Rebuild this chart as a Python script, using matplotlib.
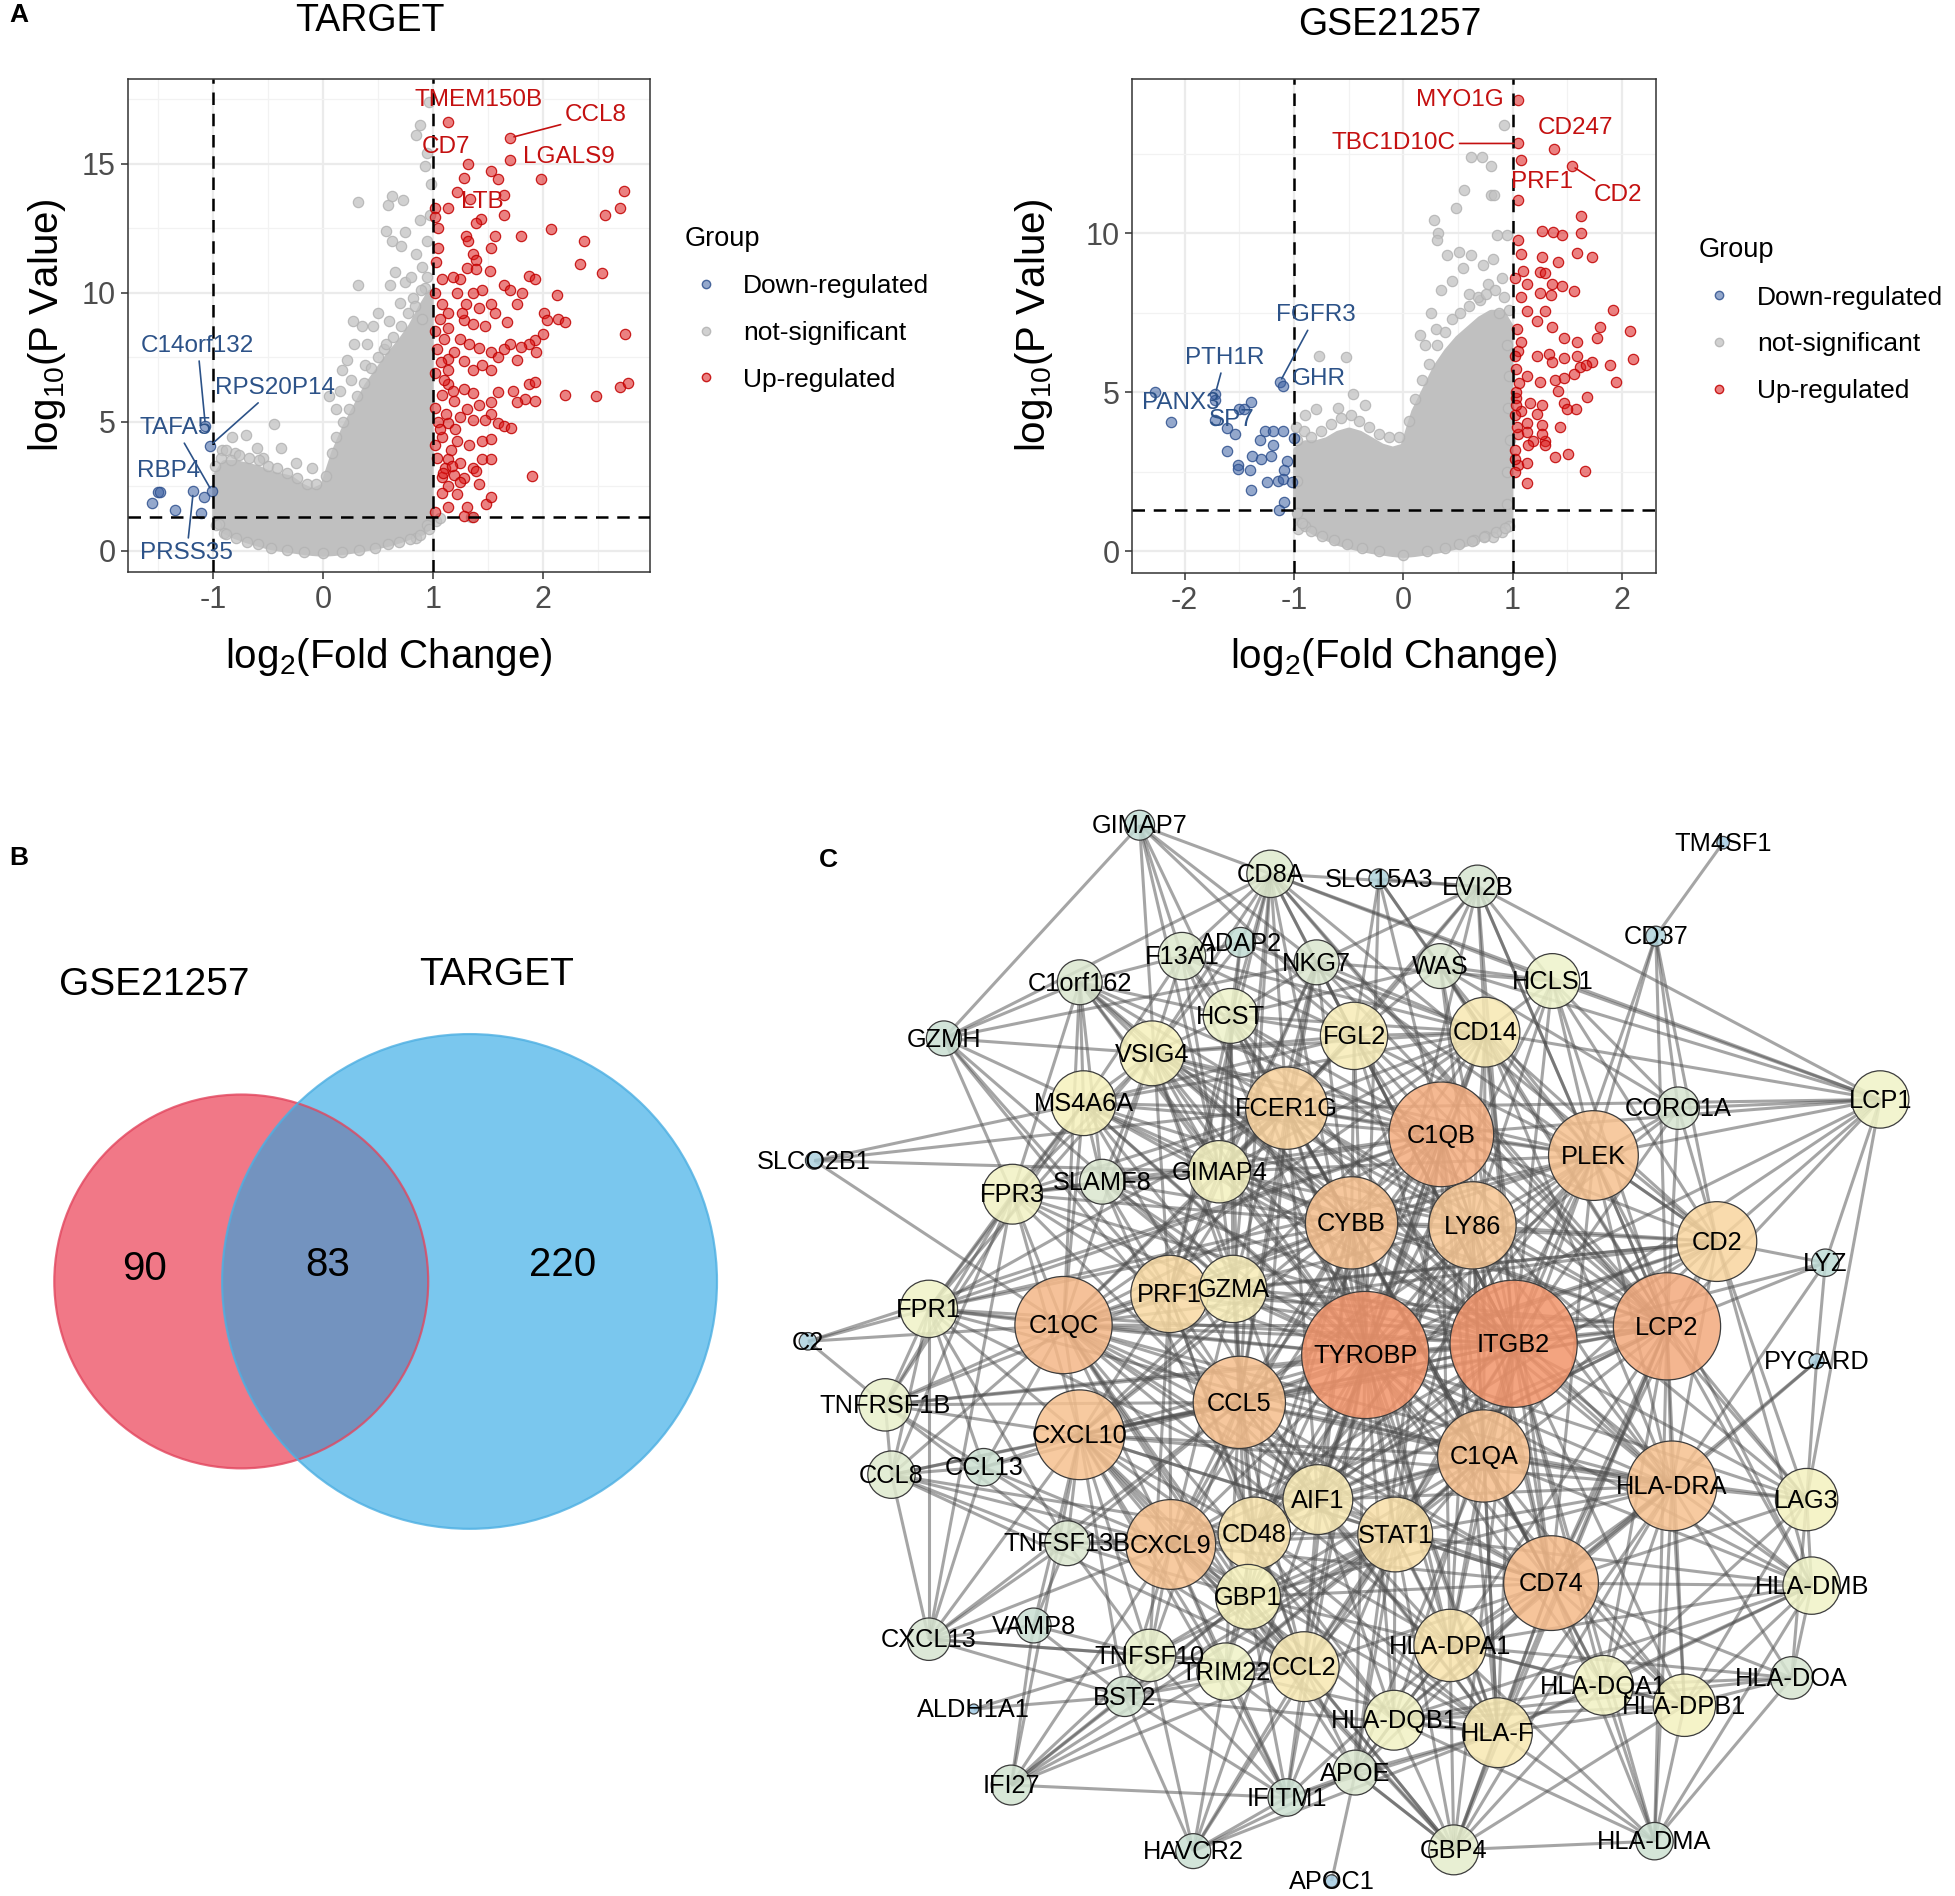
import matplotlib
matplotlib.use("Agg")
import matplotlib.pyplot as plt
import numpy as np
from matplotlib.patches import Circle
from matplotlib.collections import LineCollection
from matplotlib.colors import LinearSegmentedColormap, Normalize
from matplotlib.lines import Line2D
from matplotlib.ticker import MultipleLocator

plt.rcParams['font.family'] = ['Liberation Sans', 'DejaVu Sans']
plt.rcParams['mathtext.fontset'] = 'custom'
plt.rcParams['mathtext.rm'] = 'Liberation Sans'
plt.rcParams['axes.unicode_minus'] = False

# ---------------- panel A data: (log2FC, -log10 P) ----------------
target_up = [
    (1.59, 14.4), (1.53, 14.7), (1.28, 14.45), (1.98, 14.4), (1.22, 13.9), (1.65, 13.8),
    (1.02, 13.3), (1.14, 13.3), (2.74, 13.95), (2.70, 13.3), (2.56, 13.0), (1.65, 13.0),
    (1.44, 12.85), (1.39, 12.7), (1.02, 12.95), (1.05, 12.5), (1.30, 12.2), (1.32, 12.0),
    (1.56, 12.2), (1.80, 12.2), (2.07, 12.45), (2.37, 12.0), (1.05, 11.75), (1.53, 11.75),
    (1.36, 11.5), (1.39, 11.25), (1.31, 10.95), (1.39, 10.9), (1.52, 10.85), (2.34, 11.1),
    (2.54, 10.75), (1.87, 10.65), (1.08, 10.55), (1.25, 10.55), (1.93, 10.55), (1.65, 10.3),
    (1.45, 10.1), (1.36, 10.0), (1.02, 10.0), (1.22, 10.0), (1.81, 10.0), (1.70, 10.1),
    (2.13, 9.9), (1.08, 9.55), (1.30, 9.55), (1.53, 9.55), (1.76, 9.55), (1.42, 9.4),
    (1.56, 9.2), (1.14, 9.2), (1.28, 8.95), (1.67, 8.85), (1.36, 8.8), (1.47, 8.7),
    (1.14, 8.65), (1.02, 8.5), (2.01, 9.2), (2.04, 8.95), (2.14, 9.0), (2.20, 8.85),
    (2.00, 8.4), (1.93, 8.15), (1.87, 8.0), (1.80, 7.9), (1.70, 8.0), (2.75, 8.4),
    (1.25, 8.2), (1.33, 8.0), (1.42, 7.85), (1.53, 7.7), (1.59, 7.5), (1.65, 7.8),
    (1.19, 7.7), (1.14, 7.45), (1.28, 7.35), (1.45, 7.2), (1.36, 7.0), (1.53, 7.0),
    (1.14, 7.0), (1.02, 6.9), (1.76, 7.4), (1.94, 7.7), (1.87, 6.45), (1.93, 6.55),
    (1.73, 6.2), (1.84, 5.9), (1.93, 5.8), (1.76, 5.75), (1.59, 6.15), (1.53, 5.75),
    (2.70, 6.35), (2.77, 6.5), (2.48, 6.0), (2.20, 6.05), (1.14, 6.45), (1.28, 6.25),
    (1.36, 6.1), (1.08, 6.05), (1.19, 5.8), (1.42, 5.65), (1.31, 5.5), (1.02, 5.55),
    (1.25, 5.2), (1.14, 4.95), (1.36, 5.05), (1.53, 5.3), (1.47, 5.05), (1.59, 4.95),
    (1.65, 4.85), (1.71, 4.75), (1.08, 4.4), (1.22, 4.25), (1.33, 4.1), (1.16, 3.9),
    (1.02, 4.1), (1.45, 4.25), (1.53, 4.35), (1.14, 3.55), (1.25, 3.4), (1.36, 3.2),
    (1.19, 2.95), (1.08, 2.85), (1.28, 2.8), (1.45, 3.55), (1.53, 3.55), (1.39, 3.1),
    (1.90, 2.9), (1.14, 2.5), (1.25, 2.65), (1.42, 2.6), (1.08, 2.25), (1.14, 1.7),
    (1.31, 1.7), (1.48, 1.8), (1.53, 2.1), (1.28, 1.35), (1.02, 1.5), (1.36, 1.3),
    (1.03, 11.2), (1.06, 9.0), (1.04, 7.8), (1.10, 6.6), (1.05, 5.0), (1.20, 4.7),
    (1.11, 3.2), (1.22, 2.2), (1.04, 3.6), (1.18, 10.6), (1.26, 9.2), (1.10, 8.2),
    (1.09, 3.0), (1.17, 3.3), (1.06, 4.7), (1.12, 5.3), (1.18, 6.2), (1.07, 7.3),
]
target_down = [(-1.50, 2.28), (-1.48, 2.28), (-1.56, 1.85), (-1.35, 1.59), (-1.11, 1.47)]
target_ns = [
    (0.32, 13.5), (0.59, 13.4), (0.63, 13.75), (0.73, 13.6), (0.57, 12.4), (0.63, 12.0),
    (0.75, 12.35), (0.71, 11.8), (0.88, 16.5), (0.85, 16.1), (0.96, 17.4), (0.93, 14.9),
    (0.95, 15.4), (0.90, 11.0), (0.85, 11.5), (0.88, 12.8), (0.32, 10.3), (0.61, 10.3),
    (0.65, 10.8), (0.75, 10.4), (0.80, 10.6), (0.27, 8.9), (0.35, 8.7), (0.28, 8.0),
    (0.45, 8.7), (0.50, 9.2), (0.17, 7.0), (0.22, 7.4), (0.05, 6.0), (0.12, 5.5),
    (-0.45, 4.9), (-0.70, 4.5), (-0.83, 4.4), (-0.92, 3.9), (-0.80, 3.8), (-0.60, 4.0),
    (-0.38, 4.0), (-0.55, 3.6), (-0.25, 3.4), (-0.10, 3.2), (1.03, 1.15), (1.35, 1.3),
    (1.06, 1.25), (0.95, 1.0), (-0.97, 1.0), (-0.90, 0.7), (0.40, 8.0), (0.55, 7.8),
    (0.70, 9.6), (0.82, 9.8), (0.93, 10.2), (0.90, 9.0), (0.95, 12.0), (0.97, 13.0),
    (0.98, 14.2), (0.15, 6.2), (0.25, 6.6), (0.38, 7.2), (0.60, 8.9), (0.85, 0.5),
    # points along the edge of the dense cloud
    (-0.98, 3.3), (-0.93, 3.6), (-0.88, 3.9), (-0.84, 3.5), (-0.76, 3.7), (-0.67, 3.6),
    (-0.58, 3.5), (-0.50, 3.3), (-0.42, 3.2), (-0.33, 3.0), (-0.24, 2.8), (-0.15, 2.6),
    (-0.06, 2.6), (0.03, 2.9), (0.08, 3.8), (0.12, 4.4), (0.18, 5.0), (0.24, 5.5),
    (0.31, 6.0), (0.37, 6.5), (0.44, 7.1), (0.50, 7.5), (0.57, 8.0), (0.64, 8.3),
    (0.71, 8.7), (0.77, 9.2), (0.84, 9.5), (0.89, 10.1), (0.95, 10.6),
    (-0.95, 1.05), (-0.88, 0.65), (-0.79, 0.5), (-0.69, 0.35), (-0.59, 0.25), (-0.47, 0.12),
    (-0.33, 0.04), (-0.17, -0.05), (0.0, -0.1), (0.17, -0.05), (0.33, 0.04), (0.47, 0.12),
    (0.59, 0.25), (0.69, 0.35), (0.79, 0.45), (0.88, 0.6), (0.96, 0.85),
]
# envelope of the dense non-significant cloud: log2FC, lower and upper -log10 P
target_env_x = [-0.98, -0.9, -0.8, -0.7, -0.6, -0.5, -0.4, -0.3, -0.2, -0.1, 0.0,
                0.1, 0.2, 0.3, 0.4, 0.5, 0.6, 0.7, 0.8, 0.9, 0.97]
target_env_hi = [2.9, 3.4, 3.4, 3.3, 3.2, 3.0, 2.9, 2.8, 2.5, 2.3, 2.5,
                 3.8, 4.8, 5.6, 6.4, 7.0, 7.6, 8.1, 8.7, 9.5, 10.0]
target_env_lo = [1.2, 0.8, 0.6, 0.45, 0.32, 0.2, 0.12, 0.06, 0.0, -0.05, -0.08,
                 -0.05, 0.0, 0.06, 0.14, 0.22, 0.32, 0.45, 0.6, 0.75, 1.0]
# labelled genes: name, log2FC, -log10P, label x, label y, leader line, group
target_labels = [
    ("TMEM150B", 1.14, 16.6, 1.41, 17.45, False, "up"),
    ("CCL8", 1.70, 16.0, 2.48, 16.87, True, "up"),
    ("CD7", 1.32, 15.0, 1.12, 15.63, False, "up"),
    ("LGALS9", 1.70, 15.15, 2.24, 15.25, False, "up"),
    ("LTB", 1.34, 13.65, 1.45, 13.52, False, "up"),
    ("C14orf132", -1.07, 4.84, -1.14, 7.94, True, "down"),
    ("RPS20P14", -1.03, 4.06, -0.44, 6.30, True, "down"),
    ("TAFA5", -1.01, 2.30, -1.34, 4.75, True, "down"),
    ("RBP4", -1.08, 2.08, -1.40, 3.10, False, "down"),
    ("PRSS35", -1.18, 2.30, -1.24, -0.09, True, "down"),
]

gse_up = [
    (1.05, 11.04), (1.63, 10.55), (1.27, 10.08), (1.37, 10.04), (1.45, 9.94), (1.63, 10.01),
    (1.08, 9.35), (1.59, 9.38), (1.27, 9.24), (1.73, 9.24), (1.42, 9.10), (1.10, 8.82),
    (1.25, 8.79), (1.30, 8.75), (1.13, 8.40), (1.36, 8.40), (1.45, 8.33), (1.56, 8.19),
    (1.25, 8.12), (1.35, 8.05), (1.08, 7.98), (1.92, 7.58), (1.80, 7.04), (2.07, 6.92),
    (1.77, 6.71), (1.47, 6.71), (1.36, 7.06), (1.22, 7.25), (1.30, 7.56), (1.13, 7.56),
    (1.59, 6.57), (1.08, 6.57), (1.05, 6.29), (1.22, 6.15), (1.33, 6.22), (1.36, 5.94),
    (1.47, 6.08), (1.59, 6.15), (1.62, 5.80), (1.73, 5.94), (1.67, 5.87), (1.89, 5.87),
    (2.10, 6.04), (1.95, 5.34), (1.02, 6.15), (1.03, 5.73), (1.13, 5.52), (1.25, 5.31),
    (1.39, 5.38), (1.47, 5.45), (1.56, 5.59), (1.68, 4.85), (1.58, 4.49), (1.42, 5.03),
    (1.47, 4.68), (1.50, 4.47), (1.27, 4.61), (1.16, 4.68), (1.22, 4.33), (1.08, 4.40),
    (1.03, 4.82), (1.03, 4.61), (1.13, 4.04), (1.27, 3.97), (1.43, 3.90), (1.05, 3.69),
    (1.13, 3.76), (1.19, 3.48), (1.30, 3.48), (1.30, 3.34), (1.14, 3.34), (1.27, 3.69),
    (1.39, 2.96), (1.51, 3.06), (1.02, 3.20), (1.05, 2.71), (1.13, 2.78), (1.02, 2.50),
    (1.66, 2.53), (1.13, 2.15), (1.02, 4.30), (1.03, 5.00), (1.04, 7.00), (1.02, 8.60),
    (1.05, 9.80), (1.04, 3.90), (1.02, 2.90), (1.06, 5.30),
]
gse_down = [
    (-2.27, 5.00), (-2.12, 4.07), (-1.50, 4.49), (-1.46, 4.47), (-1.39, 4.70), (-1.61, 3.88),
    (-1.54, 3.69), (-1.26, 3.79), (-1.19, 3.79), (-1.10, 3.79), (-1.00, 3.55), (-1.31, 3.51),
    (-1.19, 3.34), (-1.61, 3.17), (-1.38, 2.99), (-1.30, 2.92), (-1.21, 2.99), (-1.06, 2.85),
    (-1.51, 2.71), (-1.51, 2.60), (-1.40, 2.57), (-1.09, 2.57), (-1.25, 2.18), (-1.15, 2.22),
    (-1.10, 2.29), (-1.39, 1.94), (-1.02, 2.19), (-1.09, 1.54), (-1.14, 1.31),
]
gse_ns = [
    (0.92, 13.4), (0.62, 12.4), (0.72, 12.4), (0.80, 12.1), (0.56, 11.35), (0.80, 11.2),
    (0.83, 11.2), (0.48, 10.8), (0.28, 10.4), (0.32, 10.0), (0.31, 9.8), (0.86, 9.95),
    (0.95, 9.95), (0.51, 9.4), (0.62, 9.3), (0.73, 9.0), (0.82, 9.2), (0.40, 9.3),
    (0.55, 8.9), (0.45, 8.5), (0.25, 7.5), (0.20, 6.5), (0.15, 6.8), (-0.77, 6.15),
    (-0.52, 6.10), (-0.46, 4.96), (-0.80, 4.47), (-0.90, 4.30), (-0.60, 4.50), (-0.35, 4.60),
    (0.90, 8.6), (0.88, 7.5), (0.95, 6.5), (0.97, 5.5), (0.96, 4.5), (0.98, 3.5),
    (0.95, 2.5), (0.95, 1.5), (0.97, 0.8), (0.90, 0.6), (-0.97, 1.2), (-0.96, 0.7),
    (-0.90, 0.8), (0.75, 0.5), (0.82, 0.45), (0.65, 0.35), (0.35, 8.2), (0.60, 8.1),
    (0.70, 7.9), (0.30, 7.0), (0.78, 8.4), (-0.98, 3.9), (-0.97, 2.2),
    # points along the edge of the dense cloud
    (-0.97, 3.5), (-0.91, 3.8), (-0.84, 3.6), (-0.75, 3.8), (-0.66, 4.0), (-0.57, 4.2),
    (-0.48, 4.3), (-0.40, 4.1), (-0.31, 3.9), (-0.22, 3.7), (-0.13, 3.6), (-0.04, 3.6),
    (0.05, 4.1), (0.11, 4.8), (0.17, 5.4), (0.24, 5.9), (0.31, 6.5), (0.38, 6.9),
    (0.45, 7.3), (0.52, 7.5), (0.60, 7.7), (0.68, 8.0), (0.76, 8.1), (0.84, 8.2),
    (0.92, 8.0), (0.97, 7.6),
    (-0.93, 0.9), (-0.84, 0.65), (-0.74, 0.5), (-0.63, 0.35), (-0.51, 0.22), (-0.38, 0.1),
    (-0.22, 0.0), (0.0, -0.1), (0.22, 0.0), (0.38, 0.1), (0.51, 0.22), (0.63, 0.33),
    (0.74, 0.45), (0.85, 0.6), (0.93, 0.75),
]
gse_env_x = [-0.98, -0.9, -0.8, -0.7, -0.6, -0.5, -0.4, -0.3, -0.2, -0.1, 0.0,
             0.1, 0.2, 0.3, 0.4, 0.5, 0.6, 0.7, 0.8, 0.9, 0.97]
gse_env_hi = [3.2, 3.4, 3.4, 3.5, 3.7, 3.8, 3.7, 3.5, 3.3, 3.2, 3.3,
              4.4, 5.1, 5.8, 6.3, 6.7, 7.0, 7.3, 7.5, 7.5, 7.1]
gse_env_lo = [1.0, 0.8, 0.6, 0.45, 0.3, 0.2, 0.12, 0.05, 0.0, -0.05, -0.08,
              -0.05, 0.0, 0.05, 0.12, 0.2, 0.3, 0.45, 0.6, 0.8, 1.0]
gse_labels = [
    ("MYO1G", 1.05, 14.19, 0.52, 14.19, False, "up"),
    ("TBC1D10C", 1.05, 12.82, -0.09, 12.82, True, "up"),
    ("CD247", 1.38, 12.64, 1.58, 13.29, False, "up"),
    ("PRF1", 1.08, 12.30, 1.27, 11.60, False, "up"),
    ("CD2", 1.54, 12.12, 1.96, 11.20, True, "up"),
    ("FGFR3", -1.13, 5.31, -0.80, 7.42, True, "down"),
    ("GHR", -1.10, 5.20, -0.77, 5.42, False, "down"),
    ("PTH1R", -1.72, 4.94, -1.63, 6.08, True, "down"),
    ("PANX3", -1.72, 4.75, -2.03, 4.68, False, "down"),
    ("SP7", -1.72, 4.12, -1.57, 4.14, False, "down"),
]
groups = ["Down-regulated", "not-significant", "Up-regulated"]

# ---------------- panel B data ----------------
venn_sets = ["GSE21257", "TARGET"]
venn_only_gse, venn_both, venn_only_target = 90, 83, 220

# ---------------- panel C data ----------------
nodes = [  # name, layout x, layout y, degree
    ("GIMAP7", 914, 662, 9), ("TM4SF1", 1382, 676, 2), ("CD8A", 1019, 701, 16),
    ("SLC15A3", 1106, 705, 5), ("EVI2B", 1185, 711, 14), ("CD37", 1328, 751, 5),
    ("ADAP2", 995, 756, 9), ("F13A1", 948, 767, 16), ("NKG7", 1056, 772, 15),
    ("WAS", 1155, 775, 15), ("HCLS1", 1245, 787, 19), ("C1orf162", 866, 788, 15),
    ("HCST", 987, 815, 19), ("FGL2", 1086, 831, 24), ("CD14", 1191, 828, 25),
    ("GZMH", 757, 833, 11), ("VSIG4", 924, 845, 23), ("MS4A6A", 869, 885, 23),
    ("FCER1G", 1032, 889, 30), ("CORO1A", 1346, 889, 14), ("LCP1", 1508, 882, 20),
    ("C1QB", 1156, 910, 39), ("PLEK", 1278, 927, 33), ("SLCO2B1", 653, 931, 4),
    ("GIMAP4", 978, 940, 22), ("SLAMF8", 884, 948, 15), ("FPR3", 812, 958, 21),
    ("CYBB", 1084, 981, 34), ("LY86", 1181, 983, 32), ("CD2", 1377, 996, 29),
    ("LYZ", 1464, 1013, 8), ("PRF1", 938, 1038, 28), ("GZMA", 989, 1034, 24),
    ("FPR1", 745, 1050, 20), ("C1QC", 853, 1063, 36), ("LCP2", 1337, 1064, 40),
    ("C2", 648, 1076, 4), ("ITGB2", 1214, 1078, 48), ("TYROBP", 1095, 1087, 48),
    ("PYCARD", 1457, 1092, 3), ("CCL5", 994, 1125, 34), ("TNFRSF1B", 710, 1127, 18),
    ("CXCL10", 866, 1151, 33), ("C1QA", 1190, 1168, 34), ("CCL13", 789, 1177, 12),
    ("CCL8", 715, 1183, 16), ("HLA-DRA", 1341, 1192, 33), ("AIF1", 1057, 1203, 25),
    ("LAG3", 1449, 1203, 22), ("CD48", 1006, 1230, 26), ("STAT1", 1119, 1231, 27),
    ("TNFSF13B", 856, 1238, 15), ("CXCL9", 939, 1239, 33), ("CD74", 1244, 1270, 35),
    ("HLA-DMB", 1453, 1272, 20), ("GBP1", 1001, 1281, 23), ("VAMP8", 829, 1304, 11),
    ("CXCL13", 745, 1315, 14), ("HLA-DPA1", 1163, 1320, 26), ("TNFSF10", 922, 1328, 18),
    ("CCL2", 1046, 1337, 25), ("TRIM22", 983, 1341, 20), ("HLA-DOA", 1437, 1346, 14),
    ("HLA-DQA1", 1286, 1352, 21), ("BST2", 902, 1361, 13), ("HLA-DPB1", 1351, 1368, 22),
    ("ALDH1A1", 781, 1371, 1), ("HLA-DQB1", 1118, 1380, 21), ("HLA-F", 1201, 1390, 25),
    ("APOE", 1087, 1422, 15), ("IFI27", 811, 1432, 13), ("IFITM1", 1032, 1442, 12),
    ("HLA-DMA", 1327, 1477, 12), ("GBP4", 1166, 1484, 17), ("HAVCR2", 957, 1485, 11),
    ("APOC1", 1068, 1509, 2),
]
links = {
    "TYROBP": "ITGB2 LCP2 C1QB C1QC C1QA CYBB FCER1G PLEK LY86 CD74 HLA-DRA CCL5 CXCL10 CXCL9 CD2 STAT1 FGL2 CD14 PRF1 GZMA CD48 AIF1 GIMAP4 MS4A6A VSIG4 FPR3 FPR1 HCST LAG3 HLA-DPA1 HLA-F CCL2 GBP1 LCP1 HCLS1 CD8A F13A1 NKG7 C1orf162 CORO1A SLAMF8 EVI2B TNFRSF1B HLA-DMB HLA-DQA1 HLA-DPB1 HLA-DQB1 APOE HAVCR2 IFITM1 SLC15A3",
    "ITGB2": "LCP2 C1QB C1QC C1QA CYBB FCER1G PLEK LY86 CD74 HLA-DRA CCL5 CXCL10 CXCL9 CD2 STAT1 FGL2 CD14 PRF1 GZMA CD48 AIF1 GIMAP4 MS4A6A VSIG4 FPR3 FPR1 HCST LAG3 HLA-DPA1 HLA-F CCL2 LCP1 HCLS1 CD8A NKG7 C1orf162 CORO1A SLAMF8 EVI2B WAS TNFRSF1B HLA-DMB HLA-DQA1 HLA-DPB1 HLA-DQB1 HLA-DMA GBP4 CD37 LYZ",
    "LCP2": "C1QB CYBB FCER1G PLEK LY86 CD74 HLA-DRA CCL5 CXCL10 CD2 STAT1 CD14 PRF1 GZMA CD48 AIF1 GIMAP4 HCST LAG3 HLA-DPA1 HLA-F LCP1 HCLS1 CD8A NKG7 CORO1A EVI2B WAS GIMAP7 CD37 LYZ HLA-DMB HLA-DPB1 HLA-DQA1 HLA-DMA GBP4 C1QC CXCL9",
    "C1QB": "C1QC C1QA CYBB FCER1G PLEK LY86 CD74 HLA-DRA CCL5 CXCL10 CXCL9 CD14 FGL2 VSIG4 MS4A6A FPR3 FPR1 AIF1 HCST C1orf162 SLC15A3 APOE C2 CD2 STAT1 HLA-F HLA-DPA1 LCP1 GIMAP4 CD48",
    "C1QC": "C1QA CYBB FCER1G PLEK LY86 CD74 HLA-DRA CCL5 CXCL10 CXCL9 CD14 FGL2 VSIG4 MS4A6A FPR3 FPR1 AIF1 C1orf162 TNFRSF1B CCL8 CCL13 SLCO2B1 C2 APOE GBP1 CCL2 STAT1 HLA-DPA1 HLA-DQB1 CD2",
    "C1QA": "CYBB FCER1G PLEK LY86 CD74 HLA-DRA CCL5 CXCL10 CXCL9 CD14 VSIG4 MS4A6A FPR1 AIF1 STAT1 HLA-F HLA-DPA1 HLA-DQA1 HLA-DPB1 APOE GBP1 CCL2 LAG3 HLA-DMB TRIM22 FGL2 CD48",
    "CYBB": "FCER1G PLEK LY86 CD74 HLA-DRA CCL5 CXCL10 CD14 FGL2 MS4A6A FPR3 FPR1 AIF1 GIMAP4 HCST VSIG4 SLAMF8 C1orf162 CD48 STAT1 CCL2 GBP1 TNFRSF1B HLA-DPA1 CD2 CXCL9",
    "FCER1G": "PLEK LY86 CD74 HLA-DRA CCL5 CD14 FGL2 MS4A6A FPR3 FPR1 AIF1 GIMAP4 HCST VSIG4 SLAMF8 C1orf162 CD48 NKG7 F13A1 CD8A SLCO2B1 LCP1 EVI2B CXCL10 HLA-F",
    "PLEK": "LY86 CD74 HLA-DRA CD14 FGL2 CD2 CORO1A LCP1 HCLS1 WAS EVI2B CD37 FPR1 AIF1 GIMAP4 CD48 STAT1 HLA-DMB CCL5 VSIG4",
    "LY86": "CD74 HLA-DRA CD14 FGL2 CD2 HCLS1 WAS CD48 AIF1 GIMAP4 MS4A6A VSIG4 STAT1 HLA-DPA1 HLA-F CCL5 LAG3",
    "CD74": "HLA-DRA HLA-DPA1 HLA-DQA1 HLA-DPB1 HLA-DQB1 HLA-F HLA-DMB HLA-DMA HLA-DOA LAG3 STAT1 CCL2 CXCL10 CXCL9 CCL5 GBP1 GBP4 APOE PYCARD CD2 CD14 AIF1",
    "HLA-DRA": "HLA-DPA1 HLA-DQA1 HLA-DPB1 HLA-DQB1 HLA-F HLA-DMB HLA-DMA HLA-DOA LAG3 STAT1 CD2 CXCL10 CCL5 GBP1 GBP4 PYCARD LYZ AIF1 CD14",
    "CCL5": "CXCL10 CXCL9 CCL2 CCL8 CCL13 STAT1 PRF1 GZMA CD48 CD2 GBP1 TNFSF10 TRIM22 CXCL13 GZMH NKG7 CD8A HCST AIF1 TNFRSF1B TNFSF13B HLA-F",
    "CXCL10": "CXCL9 CCL2 CCL8 CCL13 STAT1 GBP1 GBP4 TNFSF10 TRIM22 BST2 IFI27 IFITM1 CXCL13 TNFRSF1B TNFSF13B FPR1 FPR3 HLA-F CD48 GZMA VAMP8",
    "CXCL9": "CCL2 CCL8 CCL13 STAT1 GBP1 GBP4 TNFSF10 TRIM22 BST2 IFITM1 CXCL13 TNFSF13B CD48 GZMA PRF1 HLA-F HLA-DQB1 IFI27",
    "CD2": "CD48 PRF1 GZMA LCP1 LYZ CORO1A HCLS1 CD14 LAG3 CD8A NKG7 HLA-DMB STAT1 CD37",
    "STAT1": "GBP1 GBP4 TRIM22 BST2 IFITM1 IFI27 CCL2 HLA-F HLA-DPA1 HLA-DQB1 AIF1 CD48 TNFSF10 HLA-DMB HAVCR2 APOE",
    "FGL2": "CD14 HCST VSIG4 MS4A6A NKG7 WAS EVI2B SLC15A3 F13A1 ADAP2 GIMAP4",
    "CD14": "HCST VSIG4 MS4A6A NKG7 WAS EVI2B HCLS1 F13A1 ADAP2 AIF1 GIMAP4 LCP1 SLC15A3",
    "PRF1": "GZMA NKG7 CD8A HCST GZMH CD48 FPR3 SLAMF8 GIMAP4 GIMAP7 CCL2 TNFSF10",
    "GZMA": "NKG7 CD8A HCST GZMH CD48 GIMAP4 SLAMF8 MS4A6A VSIG4 CD14",
    "CD48": "AIF1 GBP1 TRIM22 CCL2 TNFSF13B HLA-F HLA-DQB1 HLA-DPA1 SLAMF8 CCL8",
    "AIF1": "GBP1 CCL2 HLA-F HLA-DQB1 HLA-DPA1 MS4A6A FPR1 FPR3 VSIG4",
    "GIMAP4": "GIMAP7 NKG7 HCST VSIG4 MS4A6A SLAMF8 FPR3 C1orf162 SLCO2B1 F13A1 ADAP2",
    "MS4A6A": "VSIG4 FPR3 FPR1 SLAMF8 C1orf162 F13A1 GZMH SLCO2B1 TNFRSF1B",
    "VSIG4": "FPR3 FPR1 SLAMF8 C1orf162 F13A1 HCST ADAP2 GZMH CD8A",
    "FPR3": "FPR1 SLAMF8 C1orf162 TNFRSF1B CCL8 CXCL13 GZMH",
    "FPR1": "TNFRSF1B CCL8 CCL13 CXCL13 C2 TNFSF13B",
    "HCST": "NKG7 CD8A ADAP2 F13A1 WAS GIMAP7 C1orf162",
    "LAG3": "HLA-DMB HLA-DOA HLA-DPB1 HLA-DQA1 LCP1 PYCARD CD8A",
    "HLA-DPA1": "HLA-DQA1 HLA-DPB1 HLA-DQB1 HLA-F HLA-DMB HLA-DMA HLA-DOA GBP4 APOE IFITM1",
    "HLA-F": "HLA-DQA1 HLA-DPB1 HLA-DQB1 HLA-DMB HLA-DMA GBP4 APOE IFITM1 BST2 TRIM22 HAVCR2",
    "HLA-DQA1": "HLA-DPB1 HLA-DQB1 HLA-DMB HLA-DMA HLA-DOA GBP4",
    "HLA-DPB1": "HLA-DQB1 HLA-DMB HLA-DMA HLA-DOA GBP4",
    "HLA-DQB1": "HLA-DMB HLA-DMA HLA-DOA GBP4 APOE",
    "HLA-DMB": "HLA-DMA HLA-DOA",
    "HLA-DMA": "HLA-DOA GBP4",
    "CCL2": "CCL8 CCL13 GBP1 TRIM22 TNFSF10 BST2 APOE IFITM1 IFI27 CXCL13 HAVCR2 GBP4",
    "GBP1": "GBP4 TRIM22 TNFSF10 BST2 IFITM1 IFI27 HLA-DPA1 TNFSF13B",
    "TRIM22": "GBP4 TNFSF10 BST2 IFITM1 IFI27 HAVCR2",
    "TNFSF10": "BST2 IFITM1 IFI27 TNFSF13B VAMP8 ALDH1A1 HAVCR2 CXCL13",
    "BST2": "IFITM1 IFI27 ALDH1A1 HAVCR2 VAMP8",
    "IFITM1": "IFI27 HAVCR2 APOE",
    "APOE": "APOC1 HAVCR2 GBP4",
    "CCL8": "CCL13 CXCL13 TNFRSF1B TNFSF13B",
    "CCL13": "CXCL13 TNFRSF1B",
    "CXCL13": "TNFSF13B VAMP8 BST2",
    "TNFSF13B": "VAMP8 TNFRSF1B",
    "VAMP8": "IFI27",
    "TNFRSF1B": "C2",
    "LCP1": "HCLS1 CORO1A WAS EVI2B LYZ CD8A",
    "HCLS1": "CORO1A WAS EVI2B CD8A NKG7",
    "CORO1A": "CD37 WAS",
    "EVI2B": "WAS SLC15A3 CD8A NKG7",
    "CD8A": "NKG7 GIMAP7 GZMH ADAP2 F13A1",
    "NKG7": "GIMAP7 GZMH",
    "F13A1": "GIMAP7 C1orf162 ADAP2",
    "C1orf162": "GZMH SLAMF8",
    "GIMAP7": "GZMH",
    "CD37": "TM4SF1",
    "LYZ": "PYCARD",
    "SLC15A3": "WAS",
}

# ---------------- layout helpers (reference layout units) ----------------
W, H = 1568.0, 1521.0
def fx(x): return x / W
def fy(y): return 1 - y / H

fig = plt.figure(figsize=(19.55, 18.96), dpi=100)

col = {"up": "#C41010", "down": "#2C5288"}
face = {"Up-regulated": (0.86, 0.10, 0.10, 0.55), "Down-regulated": (0.24, 0.38, 0.64, 0.55),
        "not-significant": (0.76, 0.76, 0.76, 0.75)}
edge = {"Up-regulated": (0.76, 0.0, 0.0, 0.85), "Down-regulated": (0.19, 0.32, 0.56, 0.85),
        "not-significant": (0.70, 0.70, 0.70, 0.85)}


def volcano(rect, xlim, ylim, env, ns, up, down, labels, title, title_xy, leg_xy, xlab_xy, ylab_xy):
    ax = fig.add_axes(rect)
    ex, elo, ehi = env
    ax.fill_between(ex, elo, ehi, facecolor="#C0C0C0", edgecolor="#C0C0C0", lw=5,
                    joinstyle="round", zorder=2)
    lab_up = [(l[1], l[2]) for l in labels if l[6] == "up"]
    lab_dn = [(l[1], l[2]) for l in labels if l[6] == "down"]
    for pts, g in [(ns, "not-significant"), (down + lab_dn, "Down-regulated"), (up + lab_up, "Up-regulated")]:
        a = np.array(pts)
        ax.scatter(a[:, 0], a[:, 1], s=55, facecolors=[face[g]], edgecolors=[edge[g]],
                   linewidths=0.9, zorder=3)
    dash = (0, (5, 3.5))
    ax.axvline(-1, color="black", lw=1.8, ls=dash, zorder=4)
    ax.axvline(1, color="black", lw=1.8, ls=dash, zorder=4)
    ax.axhline(-np.log10(0.05), color="black", lw=1.8, ls=dash, zorder=4)
    for name, x, y, tx, ty, line, d in labels:
        if line:
            ax.annotate(name, xy=(x, y), xytext=(tx, ty), color=col[d], fontsize=17.5,
                        ha="center", va="center", zorder=5,
                        arrowprops=dict(arrowstyle="-", color=col[d], lw=1.2, shrinkA=1, shrinkB=3))
        else:
            ax.text(tx, ty, name, color=col[d], fontsize=17.5, ha="center", va="center", zorder=5)
    ax.set_xlim(*xlim)
    ax.set_ylim(*ylim)
    ax.xaxis.set_major_locator(MultipleLocator(1))
    ax.xaxis.set_minor_locator(MultipleLocator(0.5))
    ax.yaxis.set_major_locator(MultipleLocator(5))
    ax.yaxis.set_minor_locator(MultipleLocator(2.5))
    ax.grid(True, which="major", color="#EBEBEB", lw=1.6)
    ax.grid(True, which="minor", color="#F2F2F2", lw=0.9)
    ax.set_axisbelow(True)
    ax.tick_params(which="minor", length=0)
    ax.tick_params(which="major", length=5, width=1.1, color="#333333", labelsize=22,
                   labelcolor="#4D4D4D", pad=4)
    for s in ax.spines.values():
        s.set_color("#333333")
        s.set_linewidth(1.1)
    fig.text(fx(title_xy[0]), fy(title_xy[1]), title, fontsize=27, ha="center", va="baseline")
    fig.text(fx(xlab_xy[0]), fy(xlab_xy[1]), r"log$_{\mathrm{2}}$(Fold Change)", fontsize=29,
             ha="center", va="center")
    fig.text(fx(ylab_xy[0]), fy(ylab_xy[1]), r"log$_{\mathrm{10}}$(P Value)", fontsize=29,
             ha="center", va="center", rotation=90)
    handles = [Line2D([], [], ls="", marker="o", markersize=6, markerfacecolor=face[g],
                      markeredgecolor=edge[g]) for g in groups]
    fig.legend(handles, groups, title="Group", loc="upper left",
               bbox_to_anchor=(fx(leg_xy[0]), fy(leg_xy[1])), bbox_transform=fig.transFigure,
               frameon=False, fontsize=19, title_fontsize=19.5, alignment="left",
               handlelength=1.6, handletextpad=0.62, labelspacing=0.86, borderpad=0,
               borderaxespad=0)
    return ax


volcano([fx(103), fy(459), fx(521) - fx(103), (459 - 63) / H], (-1.77, 2.97), (-0.83, 18.3),
        (target_env_x, target_env_lo, target_env_hi), target_ns, target_up, target_down,
        target_labels, "TARGET", (297, 25), (549, 181), (312, 527), (38, 261))
volcano([fx(908), fy(460), fx(1328) - fx(908), (460 - 63) / H], (-2.48, 2.31), (-0.69, 14.86),
        (gse_env_x, gse_env_lo, gse_env_hi), gse_ns, gse_up, gse_down,
        gse_labels, "GSE21257", (1115, 28), (1362, 190), (1118, 527), (829, 261))

# ---------------- panel B: area-proportional Venn ----------------
axb = fig.add_axes([0, fy(1300), fx(640), 600 / H])
axb.set_xlim(0, 640)
axb.set_ylim(1300, 700)
axb.axis("off")
scale = 11.4  # layout units per sqrt(gene count)
n_gse = venn_only_gse + venn_both
n_tgt = venn_only_target + venn_both
r1, r2 = scale * np.sqrt(n_gse), scale * np.sqrt(n_tgt)
target_area = np.pi * scale ** 2 * venn_both


def lens(d):
    a1 = (d ** 2 + r1 ** 2 - r2 ** 2) / (2 * d)
    a2 = d - a1
    s1 = r1 ** 2 * np.arccos(a1 / r1) - a1 * np.sqrt(r1 ** 2 - a1 ** 2)
    s2 = r2 ** 2 * np.arccos(a2 / r2) - a2 * np.sqrt(r2 ** 2 - a2 ** 2)
    return s1 + s2


lo, hi = r2 - r1 + 1e-6, r1 + r2 - 1e-6
for _ in range(60):
    mid = (lo + hi) / 2
    if lens(mid) > target_area:
        lo = mid
    else:
        hi = mid
dist = (lo + hi) / 2
c1 = (193.5, 1028)
c2 = (c1[0] + dist, c1[1])
red = Circle(c1, r1, facecolor="#F17887", edgecolor="none", zorder=1)
blue = Circle(c2, r2, facecolor="#7AC7EE", edgecolor="none", zorder=2)
axb.add_patch(red)
axb.add_patch(blue)
ov = Circle(c1, r1, facecolor="#7393BF", edgecolor="none", zorder=3)
axb.add_patch(ov)
ov.set_clip_path(blue)
axb.add_patch(Circle(c1, r1, facecolor="none", edgecolor="#E2465E", lw=1.6, alpha=0.8, zorder=4))
axb.add_patch(Circle(c2, r2, facecolor="none", edgecolor="#4DAFE2", lw=1.6, alpha=0.8, zorder=4))
ny = c1[1] - 10
axb.text((c1[0] - r1 + c2[0] - r2) / 2 + 5, ny, str(venn_only_gse), fontsize=29, ha="center", va="center", zorder=5)
axb.text((c2[0] - r2 + c1[0] + r1) / 2 + 2, ny - 3, str(venn_both), fontsize=29, ha="center", va="center", zorder=5)
axb.text((c1[0] + r1 + c2[0] + r2) / 2 - 8, ny - 3, str(venn_only_target), fontsize=29, ha="center", va="center", zorder=5)
axb.text(124, 790, venn_sets[0], fontsize=28, ha="center", va="center")
axb.text(398, 782, venn_sets[1], fontsize=28, ha="center", va="center")

# ---------------- panel C: PPI network ----------------
axc = fig.add_axes([fx(600), 0, 1 - fx(600), fy(640)])
axc.set_xlim(600, W)
axc.set_ylim(H, 640)
axc.axis("off")
pos = {n: (x, y) for n, x, y, d in nodes}
pairs = set()
for a, nb in links.items():
    for b in nb.split():
        if a in pos and b in pos and a != b:
            pairs.add(frozenset((a, b)))
segs = [[pos[a], pos[b]] for a, b in (tuple(p) for p in pairs)]
axc.add_collection(LineCollection(segs, colors=[(0.30, 0.30, 0.30, 0.5)], linewidths=2.2, zorder=1))
cmap = LinearSegmentedColormap.from_list("deg", [
    (0.0, "#A1CAE4"), (7 / 47, "#BEDCD6"), (13 / 47, "#D6E4D0"), (18 / 47, "#EEF3CA"),
    (22 / 47, "#F6F1BC"), (26 / 47, "#F9DFA7"), (31 / 47, "#F6C592"), (36 / 47, "#F4B384"),
    (1.0, "#F2946A")])
norm = Normalize(1, 48)
for n, x, y, d in nodes:
    fc = list(cmap(norm(d)))
    fc[3] = 0.85
    axc.add_patch(Circle((x, y), 3 + d, facecolor=fc, edgecolor="#3C3C3C", lw=0.9, zorder=2))
    axc.text(x, y + 1, n, fontsize=18.3, ha="center", va="center", zorder=3)

# panel letters
fig.text(fx(15), fy(12), "A", fontsize=19, fontweight="bold", ha="center", va="center")
fig.text(fx(15), fy(688), "B", fontsize=19, fontweight="bold", ha="center", va="center")
fig.text(fx(664), fy(690), "C", fontsize=19, fontweight="bold", ha="center", va="center")

fig.savefig("out.png", dpi=100)
